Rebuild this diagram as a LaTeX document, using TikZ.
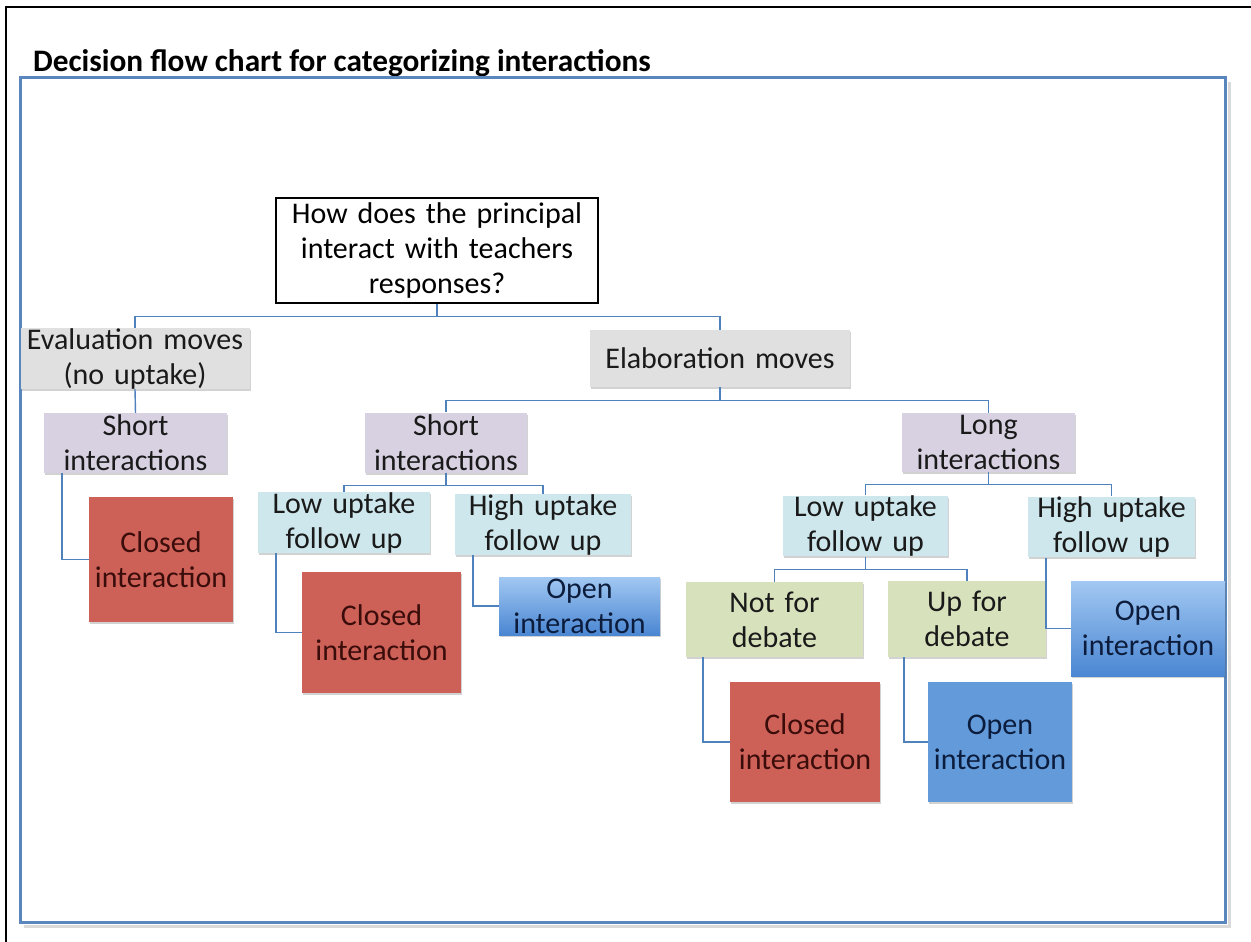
\documentclass[tikz,border=0pt]{standalone}
\usepackage{fontspec}
\setmainfont{Carlito}
\usetikzlibrary{shadows,calc}
\definecolor{conn}{HTML}{4F81BD}
\definecolor{frameblue}{HTML}{5A86BE}
\definecolor{grayfill}{HTML}{E0E0E0}
\definecolor{lavfill}{HTML}{D8D1E2}
\definecolor{cyanfill}{HTML}{CDE7EC}
\definecolor{greenfill}{HTML}{D7E2BC}
\definecolor{redfill}{HTML}{CD6158}
\definecolor{bluefill}{HTML}{629ADA}
\definecolor{bluetop}{HTML}{A2C8F2}
\definecolor{bluebot}{HTML}{4A86D2}
\definecolor{darktext}{HTML}{1A1A1A}
\definecolor{redtext}{HTML}{3A0C0A}
\definecolor{bluetext}{HTML}{0C1C3C}
\newcommand\mybox[7]{\node[#6, minimum width=#4pt, minimum height=#5pt, text width=#4pt] (#1) at (#2,#3) {#7};}
\begin{document}
\begin{tikzpicture}[x=1pt,y=-1pt,
  box/.style={inner sep=0pt, align=center, font=\fontsize{30}{35}\selectfont,
    drop shadow={shadow xshift=1pt, shadow yshift=-2pt, opacity=0.25, fill=black!70}},
  rootbox/.style={inner sep=0pt, align=center, font=\fontsize{30}{35}\selectfont, draw=black, line width=1.5pt, fill=white, text=black},
  graybox/.style={box, fill=grayfill, text=darktext},
  lavbox/.style={box, fill=lavfill, text=darktext},
  cyanbox/.style={box, fill=cyanfill, text=darktext},
  greenbox/.style={box, fill=greenfill, text=darktext},
  redbox/.style={box, fill=redfill, text=redtext},
  bluebox/.style={box, fill=bluefill, text=bluetext},
  gradbox/.style={box, top color=bluetop, bottom color=bluebot, text=bluetext},
  link/.style={draw=conn, line width=1.4pt}
]
\useasboundingbox (0,0) rectangle (1251,942);
\fill[white] (0,0) rectangle (1251,942);
% outer black frame lines
\draw[black, line width=2pt] (6,942) -- (6,7) -- (1251,7);
% title
\node[anchor=base west, inner sep=0pt, font=\bfseries\fontsize{31.3}{36}\selectfont] (title) at (33,71) {Decision flow chart for categorizing interactions};
% blue frame with shadow
\draw[black!15, line width=3pt] (24,926) -- (1229,926) -- (1229,82);
\draw[frameblue, line width=3pt] (20,78) rectangle (1225,922);
% nodes
\mybox{root}{437}{250.5}{322}{105}{rootbox}{How does the principal\\interact with teachers\\responses?}
\mybox{eval}{135}{358.5}{229}{57}{graybox}{Evaluation moves\\(no uptake)}
\mybox{elab}{720}{358.5}{260}{57}{graybox}{Elaboration moves}
\mybox{shortL}{135.5}{443}{183}{60}{lavbox}{Short\\interactions}
\mybox{closedL}{161}{559.5}{144}{125}{redbox}{Closed\\interaction}
\mybox{shortM}{446}{442.5}{162}{60}{lavbox}{Short\\interactions}
\mybox{lowM}{344}{522.5}{172}{50}{cyanbox}{Low uptake\\follow up}
\mybox{highM}{543}{524.5}{176}{53}{cyanbox}{High uptake\\follow up}
\mybox{closedM}{381.5}{632.5}{159}{121}{redbox}{Closed\\interaction}
\mybox{openM}{579.5}{606}{161}{58}{gradbox}{Open\\interaction}
\mybox{longR}{988.5}{442.5}{173}{59}{lavbox}{Long\\interactions}
\mybox{lowR}{865.5}{526}{165}{58}{cyanbox}{Low uptake\\follow up}
\mybox{highR}{1111.5}{527}{167}{60}{cyanbox}{High uptake\\follow up}
\mybox{notdeb}{774.5}{619.5}{177}{75}{greenbox}{Not for\\debate}
\mybox{updeb}{967}{619}{158}{76}{greenbox}{Up for\\debate}
\mybox{closedR}{805}{742}{150}{120}{redbox}{Closed\\interaction}
\mybox{openB}{1000}{742}{144}{120}{bluebox}{Open\\interaction}
\mybox{openR}{1148}{628.5}{154}{95}{gradbox}{Open\\interaction}
% connectors
\path[link] (root.south) -- ++(0,13) -| (eval.north);
\path[link] (root.south) -- ++(0,13) -| (elab.north);
\path[link] (eval.south) -- (shortL.north);
\path[link] ($(shortL.south west)+(18,0)$) |- (closedL.west);
\path[link] (elab.south) -- ++(0,13) -| (shortM.north);
\path[link] (elab.south) -- ++(0,13) -| (longR.north);
\path[link] (shortM.south) -- ++(0,13) -| (lowM.north);
\path[link] (shortM.south) -- ++(0,13) -| (highM.north);
\path[link] ($(lowM.south west)+(18,0)$) |- (closedM.west);
\path[link] ($(highM.south west)+(18,0)$) |- (openM.west);
\path[link] (longR.south) -- ++(0,12) -| (lowR.north);
\path[link] (longR.south) -- ++(0,12) -| (highR.north);
\path[link] (lowR.south) -- ++(0,13) -| (notdeb.north);
\path[link] (lowR.south) -- ++(0,13) -| (updeb.north);
\path[link] ($(notdeb.south west)+(17,0)$) |- (closedR.west);
\path[link] ($(updeb.south west)+(16,0)$) |- (openB.west);
\path[link] ($(highR.south west)+(18,0)$) |- (openR.west);
\end{tikzpicture}
\end{document}
